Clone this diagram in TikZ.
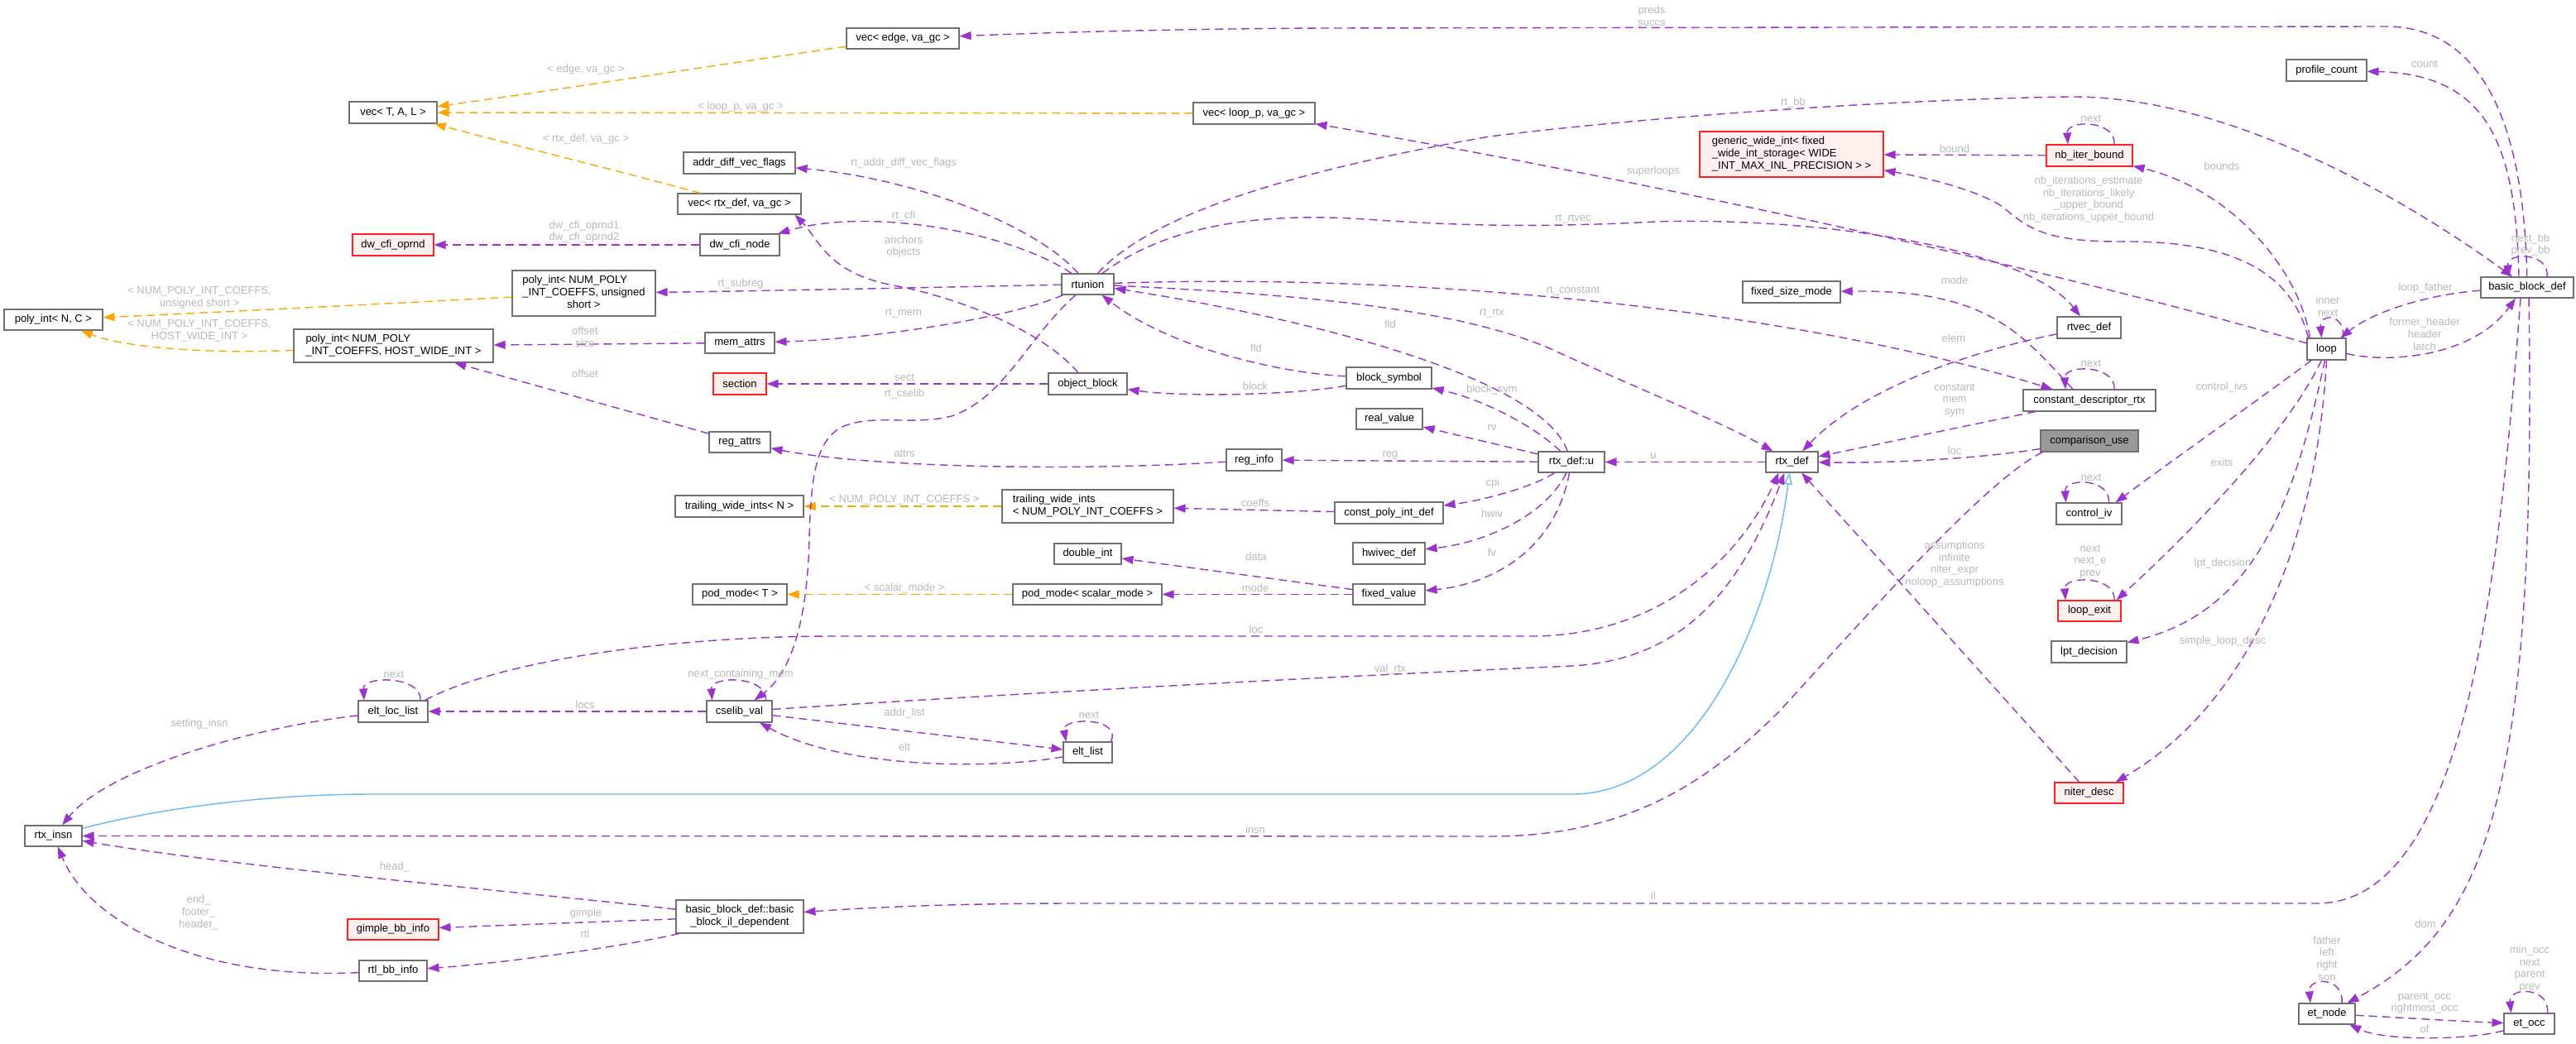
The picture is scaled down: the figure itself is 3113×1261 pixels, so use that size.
\documentclass[tikz,border=0pt]{standalone}
\usepackage{fontspec}
\setmainfont{Liberation Sans}
\usetikzlibrary{arrows.meta}
\definecolor{purp}{HTML}{9A32CD}
\definecolor{orng}{HTML}{FFA500}
\definecolor{blu}{HTML}{63B8FF}
\definecolor{lblc}{HTML}{B8B8B8}
\definecolor{bord}{HTML}{707070}
\definecolor{redb}{HTML}{FF2020}
\definecolor{redf}{HTML}{FFF0F0}
\definecolor{grayf}{HTML}{999999}
\newcommand{\nf}{\fontsize{13}{15}\selectfont}
\newcommand{\lf}{\fontsize{13}{14.7}\selectfont}
\begin{document}
\begin{tikzpicture}[x=1pt,y=-1pt,
  box/.style={draw=bord, fill=white, line width=1.1pt, inner sep=0pt, minimum height=25pt, font=\nf, text=black},
  redbox/.style={box, draw=redb, fill=redf},
  graybox/.style={box, fill=grayf},
  lab/.style={font=\lf, text=lblc, align=center, inner sep=0pt},
  mem/.style={draw=purp, line width=1.4pt, dash pattern=on 10pt off 6pt, -{Triangle[length=14pt,width=10pt]}},
  tmpl/.style={mem, draw=orng},
  inh/.style={draw=blu, line width=1.4pt, -{Triangle[length=14pt,width=10pt,open,fill=white]}}]
\fill[white] (0,0) rectangle (3113,1261);
\useasboundingbox (0,0) rectangle (3113,1261);

% ---------------- nodes ----------------
\node[box, minimum width=106pt, minimum height=26pt] (vecTAL) at (475,136) {vec< T, A, L >};
\node[redbox, minimum width=98pt, minimum height=26pt] (dwopr) at (475,296) {dw\_cfi\_oprnd};
\node[box, minimum width=173pt, minimum height=55pt] (polyus) at (705.5,354.5) {\begin{tabular}{@{}l@{}}poly\_int< NUM\_POLY\\\_INT\_COEFFS, unsigned\\\multicolumn{1}{@{}c@{}}{short >}\end{tabular}};
\node[box, minimum width=119pt] (polyNC) at (64.5,386.5) {poly\_int< N, C >};
\node[box, minimum width=241pt, minimum height=40pt] (polyhwi) at (475.5,418) {\begin{tabular}{@{}l@{}}poly\_int< NUM\_POLY\\\multicolumn{1}{@{}c@{}}{\_INT\_COEFFS, HOST\_WIDE\_INT >}\end{tabular}};
\node[box, minimum width=136pt] (vecedge) at (1091,46.5) {vec< edge, va\_gc >};
\node[box, minimum width=147pt, minimum height=26pt] (vecloop) at (1515.5,137) {vec< loop\_p, va\_gc >};
\node[box, minimum width=135pt, minimum height=26pt] (addrdiff) at (893.5,197) {addr\_diff\_vec\_flags};
\node[box, minimum width=149pt] (vecrtx) at (893.5,246.5) {vec< rtx\_def, va\_gc >};
\node[box, minimum width=96pt, minimum height=26pt] (dwcfinode) at (894,296) {dw\_cfi\_node};
\node[box, minimum width=63pt] (rtunion) at (1314.5,343.5) {rtunion};
\node[box, minimum width=84pt] (memattrs) at (894,414.5) {mem\_attrs};
\node[redbox, minimum width=222pt, minimum height=55pt, align=left] (gwi) at (2165,186.5) {generic\_wide\_int< fixed\\\_wide\_int\_storage< WIDE\\\_INT\_MAX\_INL\_PRECISION > >};
\node[box, minimum width=118pt, minimum height=26pt] (fsm) at (2165,353) {fixed\_size\_mode};
\node[box, minimum width=97pt, minimum height=26pt] (profcount) at (2811.5,85) {profile\_count};
\node[redbox, minimum width=104pt, minimum height=26pt] (nbiter) at (2525,188) {nb\_iter\_bound};
\node[box, minimum width=112pt] (bbdef) at (3054,347.5) {basic\_block\_def};
\node[box, minimum width=47pt, minimum height=26pt] (loop) at (2811.5,422) {loop};
\node[box, minimum width=77pt, minimum height=26pt] (rtvec) at (2524.5,396) {rtvec\_def};
\node[redbox, minimum width=64pt, minimum height=26pt] (section) at (894,464) {section};
\node[box, minimum width=95pt, minimum height=26pt] (objblock) at (1314.5,464) {object\_block};
\node[box, minimum width=74pt] (regattrs) at (894,534.5) {reg\_attrs};
\node[box, minimum width=67pt, minimum height=26pt] (reginfo) at (1515.5,556) {reg\_info};
\node[box, minimum width=155pt, minimum height=26pt] (twiN) at (893.5,612) {trailing\_wide\_ints< N >};
\node[box, minimum width=207pt, minimum height=40pt, align=left] (twiNUM) at (1314.5,612) {trailing\_wide\_ints\\< NUM\_POLY\_INT\_COEFFS >};
\node[box, minimum width=81pt] (dint) at (1314.5,669.5) {double\_int};
\node[box, minimum width=114pt] (podT) at (894,718.5) {pod\_mode< T >};
\node[box, minimum width=180pt] (podsm) at (1314,718.5) {pod\_mode< scalar\_mode >};
\node[box, minimum width=79pt, minimum height=26pt] (cselib) at (893.5,860) {cselib\_val};
\node[box, minimum width=103pt, minimum height=26pt] (blocksym) at (1678.5,457) {block\_symbol};
\node[box, minimum width=80pt] (realval) at (1679,506.5) {real\_value};
\node[box, minimum width=80pt] (rtxu) at (1899,558.5) {rtx\_def::u};
\node[box, minimum width=63pt] (rtxdef) at (2165.5,558.5) {rtx\_def};
\node[box, minimum width=131pt, minimum height=26pt] (cpi) at (1678.5,620) {const\_poly\_int\_def};
\node[box, minimum width=87pt, minimum height=26pt] (hwivec) at (1678.5,669) {hwivec\_def};
\node[box, minimum width=87pt] (fixedval) at (1678.5,718.5) {fixed\_value};
\node[box, minimum width=160pt, minimum height=26pt] (cdrtx) at (2525,484) {constant\_descriptor\_rtx};
\node[graybox, minimum width=118pt, minimum height=26pt] (cmpuse) at (2525,533) {comparison\_use};
\node[box, minimum width=79pt, minimum height=26pt] (controliv) at (2524.5,621) {control\_iv};
\node[redbox, minimum width=76pt] (loopexit) at (2525,738.5) {loop\_exit};
\node[box, minimum width=91pt, minimum height=26pt] (lptdec) at (2524.5,788) {lpt\_decision};
\node[box, minimum width=84pt, minimum height=26pt] (eltloc) at (475,860) {elt\_loc\_list};
\node[box, minimum width=69pt] (rtxinsn) at (64.5,1010.5) {rtx\_insn};
\node[redbox, minimum width=110pt] (gimple) at (475,1123.5) {gimple\_bb\_info};
\node[box, minimum width=82pt] (rtlbb) at (475,1173.5) {rtl\_bb\_info};
\node[box, minimum width=59pt] (eltlist) at (1314.5,909.5) {elt\_list};
\node[box, minimum width=154pt, minimum height=40pt] (bbil) at (894,1108) {\begin{tabular}{@{}l@{}}basic\_block\_def::basic\\\multicolumn{1}{@{}c@{}}{\_block\_il\_dependent}\end{tabular}};
\node[redbox, minimum width=83pt] (niter) at (2524.5,958.5) {niter\_desc};
\node[box, minimum width=68pt] (etnode) at (2812,1225.5) {et\_node};
\node[box, minimum width=61pt] (etocc) at (3056.5,1237.5) {et\_occ};

% ---------------- template instance edges ----------------
\draw[tmpl] (vecedge) .. controls (800,88) and (700,105) .. (vecTAL);
\draw[tmpl] (vecloop) -- (vecTAL);
\draw[tmpl] (vecrtx) .. controls (780,215) and (600,170) .. (vecTAL);
\draw[tmpl] (polyus) .. controls (450,368) and (250,378) .. (polyNC);
\draw[tmpl] (polyhwi) .. controls (250,428) and (150,420) .. (polyNC);
\draw[tmpl] (twiNUM) -- (twiN);
\draw[tmpl] (podsm) -- (podT);

% ---------------- inheritance ----------------
\draw[inh] (rtxinsn) .. controls (200,975) and (330,960) .. (450,960) -- (1900,960) .. controls (2050,960) and (2140,750) .. ([xshift=-3pt]rtxdef.south);

% ---------------- member edges ----------------
\draw[mem] (dwcfinode) -- (dwopr);
\draw[mem] (rtunion) .. controls (1250,270) and (1100,215) .. (addrdiff);
\draw[mem] (rtunion) .. controls (1220,280) and (1050,250) .. (dwcfinode);
\draw[mem] (objblock) .. controls (1260,400) and (1160,360) .. (1080,345) .. controls (1000,330) and (990,290) .. ([xshift=-8pt]vecrtx.south east);
\draw[mem] (rtunion) .. controls (1100,348) and (900,352) .. (polyus);
\draw[mem] (rtunion) .. controls (1220,385) and (1050,410) .. (memattrs);
\draw[mem] (memattrs) -- (polyhwi);
\draw[mem] (regattrs) -- (polyhwi);
\draw[mem] (objblock) -- (section);
\draw[mem] (rtunion) .. controls (1240,410) and (1215,480) .. (1150,503) .. controls (1100,515) and (1060,500) .. (1020,515) .. controls (985,530) and (980,580) .. (978,650) .. controls (976,740) and (960,810) .. (cselib);
\draw[mem] (blocksym) .. controls (1560,478) and (1430,480) .. (objblock);
\draw[mem] (blocksym) .. controls (1560,452) and (1420,425) .. (rtunion);
\draw[mem] (rtxu) .. controls (1860,450) and (1550,380) .. (rtunion);
\draw[mem] (rtunion) .. controls (1550,355) and (1750,370) .. (1870,420) .. controls (1980,470) and (2080,510) .. (rtxdef);
\draw[mem] (rtunion) .. controls (1700,330) and (2150,370) .. (cdrtx);
\draw[mem] (rtunion) .. controls (1400,280) and (1500,255) .. (1650,265) .. controls (1750,272) and (1850,276) .. (2000,268) .. controls (2200,262) and (2450,300) .. (rtvec);
\draw[mem] (rtunion) .. controls (1400,250) and (1600,200) .. (1800,165) .. controls (2000,140) and (2300,120) .. (2500,117) .. controls (2700,115) and (2920,250) .. (bbdef);
\draw[mem] (bbdef) .. controls (3050,150) and (3000,30) .. (2880,32) -- (1600,34) .. controls (1400,35) and (1250,40) .. (vecedge);
\draw[mem] ([xshift=-10pt]bbdef.north) .. controls (3040,180) and (3010,90) .. (profcount);
\draw[mem] ([xshift=24pt]bbdef.north) .. controls +(3,-30) and +(-3,-30) .. ([xshift=-22pt]bbdef.north);
\draw[mem] (bbdef) .. controls (2940,355) and (2870,375) .. (loop);
\draw[mem] (loop) .. controls (2890,440) and (2990,430) .. ([xshift=-14pt]bbdef.south);
\draw[mem] ([xshift=20pt]loop.north) .. controls +(3,-30) and +(-3,-30) .. ([xshift=-6pt]loop.north);
\draw[mem] ([xshift=4pt]loop.north west) .. controls (2780,330) and (2700,230) .. (nbiter);
\draw[mem] ([xshift=30pt]nbiter.north) .. controls +(2,-30) and +(-2,-30) .. ([xshift=-26pt]nbiter.north);
\draw[mem] (nbiter) -- (gwi);
\draw[mem] ([xshift=2pt]loop.north west) .. controls (2770,330) and (2700,290) .. (2560,292) .. controls (2470,292) and (2450,275) .. (2420,250) .. controls (2390,230) and (2330,215) .. (gwi);
\draw[mem] (loop) .. controls (2500,330) and (2000,220) .. (vecloop);
\draw[mem] (loop) .. controls (2720,490) and (2620,560) .. ([xshift=-8pt]controliv.north east);
\draw[mem] ([xshift=24pt]controliv.north) .. controls +(2,-30) and +(-2,-30) .. ([xshift=-28pt]controliv.north);
\draw[mem] ([xshift=-6pt]loop.south) .. controls (2760,530) and (2640,650) .. ([xshift=-6pt]loopexit.north east);
\draw[mem] ([xshift=30pt]loopexit.north) .. controls +(2,-30) and +(-2,-30) .. ([xshift=-29pt]loopexit.north);
\draw[mem] ([xshift=-2pt]loop.south) .. controls (2770,620) and (2720,740) .. (lptdec);
\draw[mem] (loop.south) .. controls (2800,650) and (2720,850) .. ([xshift=-10pt]niter.north east);
\draw[mem] (niter) -- (rtxdef);
\draw[mem] (cmpuse) .. controls (2400,553) and (2300,560) .. (rtxdef);
\draw[mem] (cdrtx) -- (rtxdef);
\draw[mem] (rtvec) .. controls (2380,425) and (2250,470) .. (rtxdef);
\draw[mem] ([xshift=-20pt]cdrtx.north) .. controls (2440,400) and (2400,350) .. (fsm);
\draw[mem] ([xshift=30pt]cdrtx.north) .. controls +(2,-30) and +(-2,-30) .. ([xshift=-29pt]cdrtx.north);
\draw[mem] (rtxdef) -- (rtxu);
\draw[mem] (rtxu) .. controls (1860,520) and (1800,485) .. (blocksym);
\draw[mem] (rtxu) -- (realval);
\draw[mem] (rtxu) -- (reginfo);
\draw[mem] (rtxu) .. controls (1850,590) and (1790,605) .. (cpi);
\draw[mem] (rtxu) .. controls (1870,620) and (1800,655) .. (hwivec);
\draw[mem] (rtxu) .. controls (1880,660) and (1810,705) .. (fixedval);
\draw[mem] (reginfo) .. controls (1300,570) and (1050,565) .. (regattrs);
\draw[mem] (cpi) -- (twiNUM);
\draw[mem] (fixedval) -- (dint);
\draw[mem] (fixedval) -- (podsm);
\draw[mem] ([xshift=-4pt]eltloc.north east) .. controls (600,800) and (800,770) .. (1000,769) -- (1850,769) .. controls (2000,769) and (2100,680) .. ([xshift=-16pt]rtxdef.south);
\draw[mem] (cselib) .. controls (1200,840) and (1600,818) .. (1900,805) .. controls (2030,797) and (2100,720) .. ([xshift=-9pt]rtxdef.south);
\draw[mem] (cselib) -- (eltloc);
\draw[mem] ([xshift=32pt]cselib.north) .. controls +(2,-30) and +(-2,-30) .. ([xshift=-33pt]cselib.north);
\draw[mem] (cselib) -- (eltlist);
\draw[mem] (eltlist) .. controls (1200,930) and (1020,930) .. (cselib);
\draw[mem] ([xshift=-2pt]eltlist.north east) .. controls +(14,-30) and +(-6,-30) .. ([xshift=4pt]eltlist.north west);
\draw[mem] ([xshift=33pt]eltloc.north) .. controls +(2,-30) and +(-2,-30) .. ([xshift=-35pt]eltloc.north);
\draw[mem] (eltloc) .. controls (300,880) and (130,930) .. (rtxinsn);
\draw[mem] ([xshift=3pt]cmpuse.south west) .. controls (2400,580) and (2260,740) .. (2150,860) .. controls (2050,960) and (1950,1011) .. (1800,1011) -- (rtxinsn);
\draw[mem] (bbil) .. controls (650,1080) and (300,1050) .. (rtxinsn);
\draw[mem] (rtlbb) .. controls (250,1185) and (110,1120) .. (rtxinsn);
\draw[mem] (bbil) -- (gimple);
\draw[mem] ([xshift=4pt]bbil.south west) .. controls (750,1145) and (600,1165) .. (rtlbb);
\draw[mem] ([xshift=-8pt]bbdef.south) .. controls (3020,700) and (2980,1092) .. (2800,1092) -- (1300,1092) .. controls (1150,1092) and (1050,1097) .. (bbil);
\draw[mem] ([xshift=2pt]bbdef.south) .. controls (3065,950) and (3010,1120) .. (etnode);
\draw[mem] ([xshift=18pt]etnode.north) .. controls +(3,-32) and +(-3,-32) .. ([xshift=-20pt]etnode.north);
\draw[mem] (etnode) .. controls (2900,1230) and (2980,1235) .. (etocc);
\draw[mem] (etocc) .. controls (2980,1258) and (2880,1258) .. (etnode);
\draw[mem] ([xshift=22pt]etocc.north) .. controls +(3,-32) and +(-3,-32) .. ([xshift=-22pt]etocc.north);

% ---------------- labels ----------------
\node[lab] (l01) at (708,84) {< edge, va\_gc >};
\node[lab] (l02) at (895,129) {< loop\_p, va\_gc >};
\node[lab] (l03) at (708,168) {< rtx\_def, va\_gc >};
\node[lab] (l04) at (706,280) {dw\_cfi\_oprnd1\\dw\_cfi\_oprnd2};
\node[lab] (l05) at (241,359.5) {< NUM\_POLY\_INT\_COEFFS,\\unsigned short >};
\node[lab] (l06) at (241,399.5) {< NUM\_POLY\_INT\_COEFFS,\\HOST\_WIDE\_INT >};
\node[lab] (l07) at (707,407.5) {offset\\size};
\node[lab] (l08) at (1092,197) {rt\_addr\_diff\_vec\_flags};
\node[lab] (l09) at (1092,261) {rt\_cfi};
\node[lab] (l10) at (1092,298) {anchors\\objects};
\node[lab] (l11) at (895,343) {rt\_subreg};
\node[lab] (l12) at (1092,379) {rt\_mem};
\node[lab] (l13) at (1518,421) {fld};
\node[lab] (l14) at (1996,19.5) {preds\\succs};
\node[lab] (l15) at (2167,124) {rt\_bb};
\node[lab] (l16) at (1998,207) {superloops};
\node[lab] (l17) at (1901,265) {rt\_rtvec};
\node[lab] (l18) at (1901,352) {rt\_constant};
\node[lab] (l19) at (1803,379) {rt\_rtx};
\node[lab] (l20) at (1680,392) {fld};
\node[lab] (l21) at (2930,77) {count};
\node[lab] (l22) at (2527,143) {next};
\node[lab] (l23) at (2362,180) {bound};
\node[lab] (l24) at (2685,201) {bounds};
\node[lab] (l25) at (2524,241) {nb\_iterations\_estimate\\nb\_iterations\_likely\\\_upper\_bound\\nb\_iterations\_upper\_bound};
\node[lab] (l26) at (3058,296) {next\_bb\\prev\_bb};
\node[lab] (l27) at (2931,348) {loop\_father};
\node[lab] (l28) at (2813,370.5) {inner\\next};
\node[lab] (l29) at (2930,404) {former\_header\\header\\latch};
\node[lab] (l30) at (2362,339) {mode};
\node[lab] (l31) at (2361,409) {elem};
\node[lab] (l32) at (707,452) {offset};
\node[lab] (l33) at (476,815) {next};
\node[lab] (l34) at (1093,456) {sect};
\node[lab] (l35) at (1093,476) {rt\_cselib};
\node[lab] (l36) at (1517,467) {block};
\node[lab] (l37) at (1093,548) {attrs};
\node[lab] (l38) at (1093,604) {< NUM\_POLY\_INT\_COEFFS >};
\node[lab] (l39) at (1517,608) {coeffs};
\node[lab] (l40) at (1518,673) {data};
\node[lab] (l41) at (1093,711) {< scalar\_mode >};
\node[lab] (l42) at (1517,711) {mode};
\node[lab] (l43) at (1518,761) {loc};
\node[lab] (l44) at (895,815) {next\_containing\_mem};
\node[lab] (l45) at (1803,471) {block\_sym};
\node[lab] (l46) at (1803,517) {rv};
\node[lab] (l47) at (1680,550) {reg};
\node[lab] (l48) at (1998,551) {u};
\node[lab] (l49) at (1804,584) {cpi};
\node[lab] (l50) at (1803,621) {hwiv};
\node[lab] (l51) at (1803,668) {fv};
\node[lab] (l52) at (1680,809) {val\_rtx};
\node[lab] (l53) at (2527,439) {next};
\node[lab] (l54) at (2362,484) {constant\\mem\\sym};
\node[lab] (l55) at (2362,545) {loc};
\node[lab] (l56) at (2685,468) {control\_ivs};
\node[lab] (l57) at (2527,577) {next};
\node[lab] (l58) at (2685,559) {exits};
\node[lab] (l59) at (2362,682) {assumptions\\infinite\\niter\_expr\\noloop\_assumptions};
\node[lab] (l60) at (2526,679) {next\\next\_e\\prev};
\node[lab] (l61) at (2686,681) {lpt\_decision};
\node[lab] (l62) at (2686,775) {simple\_loop\_desc};
\node[lab] (l63) at (241,875) {setting\_insn};
\node[lab] (l64) at (707,852) {locs};
\node[lab] (l65) at (477,1048) {head\_};
\node[lab] (l66) at (240,1103) {end\_\\footer\_\\header\_};
\node[lab] (l67) at (708,1104) {gimple};
\node[lab] (l68) at (707,1129) {rtl};
\node[lab] (l69) at (1093,862) {addr\_list};
\node[lab] (l70) at (1316,864) {next};
\node[lab] (l71) at (1093,903) {elt};
\node[lab] (l72) at (1517,1003) {insn};
\node[lab] (l73) at (1998,1083) {il};
\node[lab] (l74) at (2931,1117) {dom};
\node[lab] (l75) at (2812,1158.5) {father\\left\\right\\son};
\node[lab] (l76) at (2930,1212.5) {parent\_occ\\rightmost\_occ};
\node[lab] (l77) at (2930,1244) {of};
\node[lab] (l78) at (3057,1171) {min\_occ\\next\\parent\\prev};
\end{tikzpicture}
\end{document}
